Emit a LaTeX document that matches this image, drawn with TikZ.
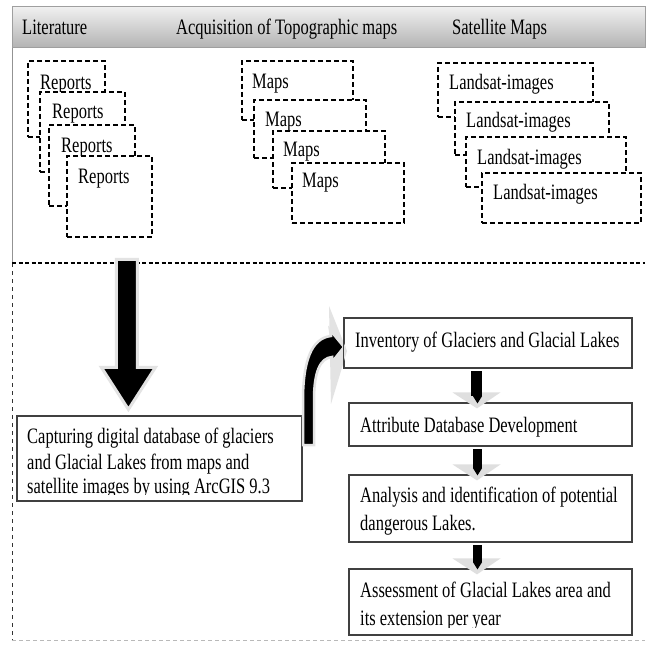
\documentclass[tikz,border=0pt]{standalone}
\usepackage{fontspec}
\setmainfont{Liberation Serif}[FakeStretch=0.75]
\usetikzlibrary{calc}
\tikzset{
  txt/.style={anchor=base west, inner sep=0pt, font=\fontsize{22}{26}\selectfont},
  dbox/.style={draw, dash pattern=on 5pt off 3pt, line width=1.3pt, fill=white, inner sep=0pt},
  sbox/.style={draw=black!75, line width=1.2pt, fill=white, inner sep=0pt},
  hdr/.style={draw=gray!75, line width=1pt, top color=gray!12, bottom color=gray!60, inner sep=0pt},
  blk/.style={fill=black, draw=gray!22, line width=3pt, line join=miter},
  sep/.style={dash pattern=on 4pt off 2.5pt, line width=1.1pt},
}
\begin{document}
\begin{tikzpicture}[x=1pt, y=-1pt]
\useasboundingbox (0,0) rectangle (645,650);
\fill[white] (0,0) rectangle (645,650);

% frame
\draw[gray!85, line width=1pt] (12,7) -- (12,263);
\draw[black!80, dash pattern=on 4pt off 4pt, line width=1pt] (12,263) -- (12,640);
\draw[gray!55, dash pattern=on 4pt off 3pt, line width=1pt] (12,640) -- (645,640);

% header
\node[hdr, minimum width=633pt, minimum height=41pt] (head) at (328.5,27.5) {};
\node[txt] (h1) at (22,35) {Literature};
\node[txt] (h2) at (176,35) {Acquisition of Topographic maps};
\node[txt] (h3) at (452,35) {Satellite Maps};

% reports
\node[dbox, minimum width=77pt, minimum height=76pt] (r1) at (66.5,99) {};
\node[txt] (tr1) at (40,90) {Reports};
\node[dbox, minimum width=85pt, minimum height=80pt] (r2) at (82.5,132) {};
\node[txt] (tr2) at (52,118) {Reports};
\node[dbox, minimum width=86pt, minimum height=81pt] (r3) at (92,165.5) {};
\node[txt] (tr3) at (61,153) {Reports};
\node[dbox, minimum width=85pt, minimum height=81pt] (r4) at (109.5,196.5) {};
\node[txt] (tr4) at (78,183) {Reports};

% maps
\node[dbox, minimum width=111pt, minimum height=59pt] (m1) at (297.5,90.5) {};
\node[txt] (tm1) at (252,89) {Maps};
\node[dbox, minimum width=112pt, minimum height=58pt] (m2) at (310,129) {};
\node[txt] (tm2) at (265,126) {Maps};
\node[dbox, minimum width=112pt, minimum height=57pt] (m3) at (329,159.5) {};
\node[txt] (tm3) at (283,157) {Maps};
\node[dbox, minimum width=112pt, minimum height=60pt] (m4) at (348,193) {};
\node[txt] (tm4) at (302,187) {Maps};

% landsat
\node[dbox, minimum width=155pt, minimum height=54pt] (l1) at (515.5,90) {};
\node[txt] (tl1) at (449,90) {Landsat-images};
\node[dbox, minimum width=154pt, minimum height=53pt] (l2) at (532,128.5) {};
\node[txt] (tl2) at (466,128) {Landsat-images};
\node[dbox, minimum width=160pt, minimum height=50pt] (l3) at (546,162) {};
\node[txt] (tl3) at (477,164) {Landsat-images};
\node[dbox, minimum width=159pt, minimum height=50pt] (l4) at (561.5,198) {};
\node[txt] (tl4) at (493,199) {Landsat-images};

% separator
\draw[sep] (12,263) -- (645,263);

% lower boxes
\node[sbox, minimum width=285pt, minimum height=85pt] (cap) at (159.5,458.5) {};
\begin{scope}
  \clip (17,416) rectangle (302,494.5);
  \node[txt] (c1) at (27,443) {Capturing digital database of glaciers};
  \node[txt] (c2) at (27,469) {and Glacial Lakes from maps and};
  \node[txt] (c3) at (27,493) {satellite images by using ArcGIS 9.3};
\end{scope}

\node[sbox, minimum width=288pt, minimum height=50pt] (inv) at (488,343) {};
\node[txt] (ti) at (355,347) {Inventory of Glaciers and Glacial Lakes};
\node[sbox, minimum width=283pt, minimum height=43pt] (att) at (490.5,424.5) {};
\node[txt] (ta) at (360,432) {Attribute Database Development};
\node[sbox, minimum width=283pt, minimum height=67pt] (ana) at (490.5,508.5) {};
\node[txt] (tn1) at (360,502) {Analysis and identification of potential};
\node[txt] (tn2) at (360,530) {dangerous Lakes.};
\node[sbox, minimum width=283pt, minimum height=66pt] (ass) at (490.5,602) {};
\begin{scope}
  \clip (349,569) rectangle (632,627.5);
  \node[txt] (ts1) at (360,597) {Assessment of Glacial Lakes area and};
  \node[txt] (ts2) at (360,625) {its extension per year};
\end{scope}

% big down arrow (top section -> capture box)
\coordinate (bigtip) at ($(cap.north west)+(112,-6)$);
\draw[blk] ($(bigtip)+(-12,-150)$) -- ($(bigtip)+(9,-150)$) -- ($(bigtip)+(9,-42)$)
  -- ($(bigtip)+(27,-42)$) -- (bigtip) -- ($(bigtip)+(-27,-42)$) -- ($(bigtip)+(-12,-42)$) -- cycle;

% curved arrow (capture box -> inventory)
\fill[gray!22] (329,306) -- (347,351) -- (331,404) -- cycle;
\draw[blk, line width=2.5pt] (303,445) -- (303,400) .. controls (303,360) and (312,338) .. (331,336)
  -- (330,330) -- (344,347) -- (332,362) -- (332,357)
  .. controls (320,358) and (314,372) .. (314,400) -- (314,445) -- cycle;
\draw[sbox, fill=none] (inv.north west) -- (inv.south west);

% small down arrows
\foreach \a/\b in {inv/att, att/ana, ana/ass}{
  \fill[gray!25] ($(\b.north)+(-38,-10)$) -- ($(\b.north)+(10,-10)$) -- ($(\b.north)+(-13.5,6)$) -- cycle;
  \fill[black] ($(\a.south)+(-17.5,2)$) rectangle ($(\b.north)+(-8.5,-6)$);
  \fill[black] ($(\b.north)+(-17.5,-6.2)$) -- ($(\b.north)+(-8.5,-6.2)$) -- ($(\b.north)+(-13,1)$) -- cycle;
}
\end{tikzpicture}
\end{document}
